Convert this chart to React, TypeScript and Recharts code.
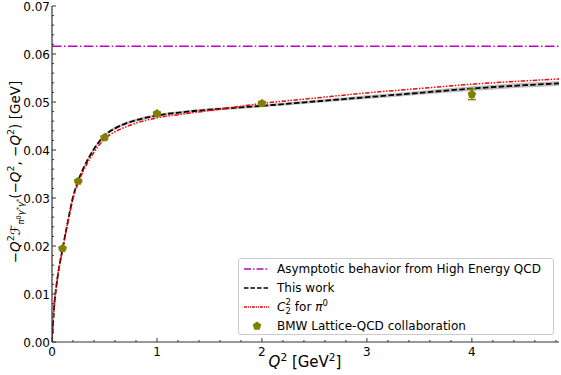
import React from 'react';
import {
  ComposedChart,
  Line,
  Area,
  Scatter,
  ErrorBar,
  XAxis,
  YAxis,
  ReferenceLine,
  Legend,
} from 'recharts';

// curve samples (Q^2 in GeV^2)
const q2 = [0, 0.02, 0.05, 0.1, 0.15, 0.2, 0.25, 0.3, 0.4, 0.5, 0.6, 0.7, 0.8, 1.0, 1.25, 1.5, 2.0, 2.5, 3.0, 3.5, 4.0, 4.5, 4.83];
const thisWork = [0, 0.0072, 0.013, 0.0193, 0.025, 0.0302, 0.0336, 0.0362, 0.0402, 0.043, 0.0445, 0.0455, 0.0462, 0.0472, 0.0479, 0.0484, 0.0492, 0.0501, 0.051, 0.0519, 0.0528, 0.0535, 0.0539];
const bandLow = [0, 0.0071, 0.0128, 0.0191, 0.0247, 0.0299, 0.0333, 0.0359, 0.0399, 0.0427, 0.0442, 0.0452, 0.0459, 0.0469, 0.0476, 0.0481, 0.0489, 0.0498, 0.0506, 0.0515, 0.0523, 0.053, 0.0534];
const bandHigh = [0, 0.0073, 0.0132, 0.0195, 0.0253, 0.0305, 0.0339, 0.0365, 0.0405, 0.0433, 0.0448, 0.0458, 0.0465, 0.0475, 0.0482, 0.0487, 0.0495, 0.0504, 0.0514, 0.0523, 0.0533, 0.054, 0.0544];
const c22 = [0, 0.0072, 0.013, 0.0192, 0.0248, 0.0298, 0.0332, 0.0357, 0.0395, 0.0423, 0.0438, 0.0448, 0.0456, 0.0467, 0.0475, 0.0482, 0.0497, 0.0508, 0.0519, 0.0528, 0.0537, 0.0544, 0.0548];

// BMW lattice points
const bmwQ2 = [0.1, 0.25, 0.5, 1, 2, 4];
const bmwVal = [0.0195, 0.0335, 0.0426, 0.0476, 0.0497, 0.0516];
const bmwErr = [0.0002, 0.0002, 0.0003, 0.0003, 0.0004, 0.0011];

const asymptote = 0.0616;

const xMajor = [0, 1, 2, 3, 4];
const yMajor = [0, 0.01, 0.02, 0.03, 0.04, 0.05, 0.06, 0.07];
const xTicks = Array.from({ length: 25 }, (_, i) => Math.round(i * 2) / 10);
const yTicks = Array.from({ length: 36 }, (_, i) => Math.round(i * 2) / 1000);

const curveData = q2.map((x, i) => ({
  q2: x,
  work: thisWork[i],
  c22: c22[i],
  band: [bandLow[i], bandHigh[i]],
}));
const bmwData = bmwQ2.map((x, i) => ({ q2: x, bmw: bmwVal[i], err: bmwErr[i] }));

const FONT = 'DejaVu Sans';
const AX = '#333';

const isMajor = (v: number, list: number[]) => list.some(m => Math.abs(m - v) < 1e-9);

const BottomTick = ({ x, y, payload }: any) => {
  const major = isMajor(payload.value, xMajor);
  return (
    <g>
      <line x1={x} x2={x} y1={y} y2={y - (major ? 4 : 2)} stroke={AX} />
      {major && (
        <text x={x} y={y + 14} textAnchor="middle" fontSize={12} fontFamily={FONT} fill="#000">
          {payload.value}
        </text>
      )}
    </g>
  );
};

const TopTick = ({ x, y, payload }: any) => {
  const major = isMajor(payload.value, xMajor);
  return <line x1={x} x2={x} y1={y} y2={y + (major ? 4 : 2)} stroke={AX} />;
};

const LeftTick = ({ x, y, payload }: any) => {
  const major = isMajor(payload.value, yMajor);
  return (
    <g>
      <line x1={x} x2={x + (major ? 4 : 2)} y1={y} y2={y} stroke={AX} />
      {major && (
        <text x={x - 2} y={y + 4.5} textAnchor="end" fontSize={12} fontFamily={FONT} fill="#000">
          {payload.value.toFixed(2)}
        </text>
      )}
    </g>
  );
};

const RightTick = ({ x, y, payload }: any) => {
  const major = isMajor(payload.value, yMajor);
  return <line x1={x} x2={x - (major ? 4 : 2)} y1={y} y2={y} stroke={AX} />;
};

const Pentagon = ({ cx, cy }: any) => {
  const r = 4.5;
  const pts = [0, 1, 2, 3, 4]
    .map(k => {
      const a = -Math.PI / 2 + (k * 2 * Math.PI) / 5;
      return `${cx + r * Math.cos(a)},${cy + r * Math.sin(a)}`;
    })
    .join(' ');
  return <polygon points={pts} fill="#808000" />;
};

const YLabel = () => (
  <text
    transform="translate(20,172) rotate(-90)"
    textAnchor="middle"
    fontSize={13.5}
    fontFamily={FONT}
    fill="#000"
  >
    <tspan>−</tspan>
    <tspan fontStyle="italic">Q</tspan>
    <tspan fontSize={9.5} dy={-6}>2</tspan>
    <tspan dy={6}>ℱ</tspan>
    <tspan fontSize={8.5} fontStyle="italic" dy={4}>π</tspan>
    <tspan fontSize={6.5} dy={-3}>0</tspan>
    <tspan fontSize={8.5} fontStyle="italic" dy={3}>γ</tspan>
    <tspan fontSize={6.5} dy={-3}>*</tspan>
    <tspan fontSize={8.5} fontStyle="italic" dy={3}>γ</tspan>
    <tspan fontSize={6.5} dy={-3}>*</tspan>
    <tspan dy={-1}>(−</tspan>
    <tspan fontStyle="italic">Q</tspan>
    <tspan fontSize={9.5} dy={-6}>2</tspan>
    <tspan dy={6}>, −</tspan>
    <tspan fontStyle="italic">Q</tspan>
    <tspan fontSize={9.5} dy={-6}>2</tspan>
    <tspan dy={6}>) [GeV]</tspan>
  </text>
);

const XLabel = () => (
  <text x={305} y={367} textAnchor="middle" fontSize={15} fontFamily={FONT} fill="#000">
    <tspan fontStyle="italic">Q</tspan>
    <tspan fontSize={10.5} dy={-6}>2</tspan>
    <tspan dy={6}> [GeV</tspan>
    <tspan fontSize={10.5} dy={-6}>2</tspan>
    <tspan dy={6}>]</tspan>
  </text>
);

const legendRows = [
  { key: 'asym', color: '#bf00bf', dash: '7 2 1.5 2' },
  { key: 'work', color: '#000', dash: '4.5 2' },
  { key: 'c22', color: '#ff0000', dash: '3 1 1 1 1 1' },
  { key: 'bmw', color: '#808000', dash: '' },
];

const renderLegend = () => (
  <div
    style={{
      border: '1px solid #ccc',
      borderRadius: 3,
      background: 'rgba(255,255,255,0.85)',
      padding: '0 0 0 3px',
      fontFamily: FONT,
      fontSize: 12,
      color: '#000',
      boxSizing: 'border-box',
      width: 316,
      height: 77,
    }}
  >
    {legendRows.map(r => (
      <div key={r.key} style={{ display: 'flex', alignItems: 'center', height: 19 }}>
        <svg width={30} height={10} style={{ marginRight: 5 }}>
          {r.key === 'bmw' ? (
            <Pentagon cx={15} cy={5} />
          ) : (
            <line x1={2} x2={27} y1={5} y2={5} stroke={r.color} strokeWidth={1.5} strokeDasharray={r.dash} />
          )}
        </svg>
        {r.key === 'asym' && <span>Asymptotic behavior from High Energy QCD</span>}
        {r.key === 'work' && <span>This work</span>}
        {r.key === 'c22' && (
          <span style={{ display: 'inline-flex', alignItems: 'center' }}>
            <i>C</i>
            <span style={{ display: 'inline-flex', flexDirection: 'column', fontSize: 8.5, lineHeight: '8.5px', marginRight: 4 }}>
              <span>2</span>
              <span>2</span>
            </span>
            for&nbsp;<i>π</i>
            <span style={{ fontSize: 8.5, position: 'relative', top: -4 }}>0</span>
          </span>
        )}
        {r.key === 'bmw' && <span>BMW Lattice-QCD collaboration</span>}
      </div>
    ))}
  </div>
);

export default function App() {
  return (
    <div style={{ position: 'absolute', left: 0, top: 0, width: 561, height: 375, background: '#fff' }}>
      <ComposedChart width={561} height={375} data={curveData} margin={{ top: 6, right: 2, bottom: 0, left: 0 }}>
        <XAxis
          dataKey="q2"
          type="number"
          domain={[0, 4.83]}
          ticks={xTicks}
          interval={0}
          height={33}
          tickSize={0}
          tickMargin={0}
          tick={BottomTick}
          axisLine={{ stroke: AX, strokeWidth: 1.2 }}
          tickLine={false}
          allowDataOverflow
        />
        <XAxis
          xAxisId="top"
          orientation="top"
          dataKey="q2"
          type="number"
          domain={[0, 4.83]}
          ticks={xTicks}
          interval={0}
          height={0}
          tickSize={0}
          tickMargin={0}
          tick={TopTick}
          axisLine={{ stroke: AX, strokeWidth: 1.2 }}
          tickLine={false}
          allowDataOverflow
        />
        <YAxis
          type="number"
          domain={[0, 0.07]}
          ticks={yTicks}
          interval={0}
          width={52}
          tickSize={0}
          tickMargin={0}
          tick={LeftTick}
          axisLine={{ stroke: AX, strokeWidth: 1.2 }}
          tickLine={false}
          allowDataOverflow
        />
        <YAxis
          yAxisId="right"
          orientation="right"
          type="number"
          domain={[0, 0.07]}
          ticks={yTicks}
          interval={0}
          width={0}
          tickSize={0}
          tickMargin={0}
          tick={RightTick}
          axisLine={{ stroke: AX, strokeWidth: 1.2 }}
          tickLine={false}
          allowDataOverflow
        />
        <ReferenceLine
          y={asymptote}
          stroke="#bf00bf"
          strokeWidth={1.5}
          strokeDasharray="9.6 2.4 1.5 2.4"
        />
        <Area
          type="monotone"
          dataKey="band"
          stroke="none"
          fill="#888"
          fillOpacity={0.55}
          isAnimationActive={false}
        />
        <Line
          type="monotone"
          dataKey="work"
          stroke="#000"
          strokeWidth={1.8}
          strokeDasharray="5.5 2.4"
          dot={false}
          activeDot={false}
          isAnimationActive={false}
        />
        <Line
          type="monotone"
          dataKey="c22"
          stroke="#ff0000"
          strokeWidth={1.5}
          strokeDasharray="4.5 1.5 1.5 1.5 1.5 1.5"
          dot={false}
          activeDot={false}
          isAnimationActive={false}
        />
        <Scatter data={bmwData} dataKey="bmw" shape={Pentagon} isAnimationActive={false}>
          <ErrorBar dataKey="err" direction="y" width={4} stroke="#808000" strokeWidth={1.5} />
        </Scatter>
        <Legend
          layout="vertical"
          verticalAlign="middle"
          align="center"
          content={renderLegend}
          wrapperStyle={{ left: 238, top: 258, width: 316, height: 77 }}
        />
        <YLabel />
        <XLabel />
      </ComposedChart>
    </div>
  );
}
